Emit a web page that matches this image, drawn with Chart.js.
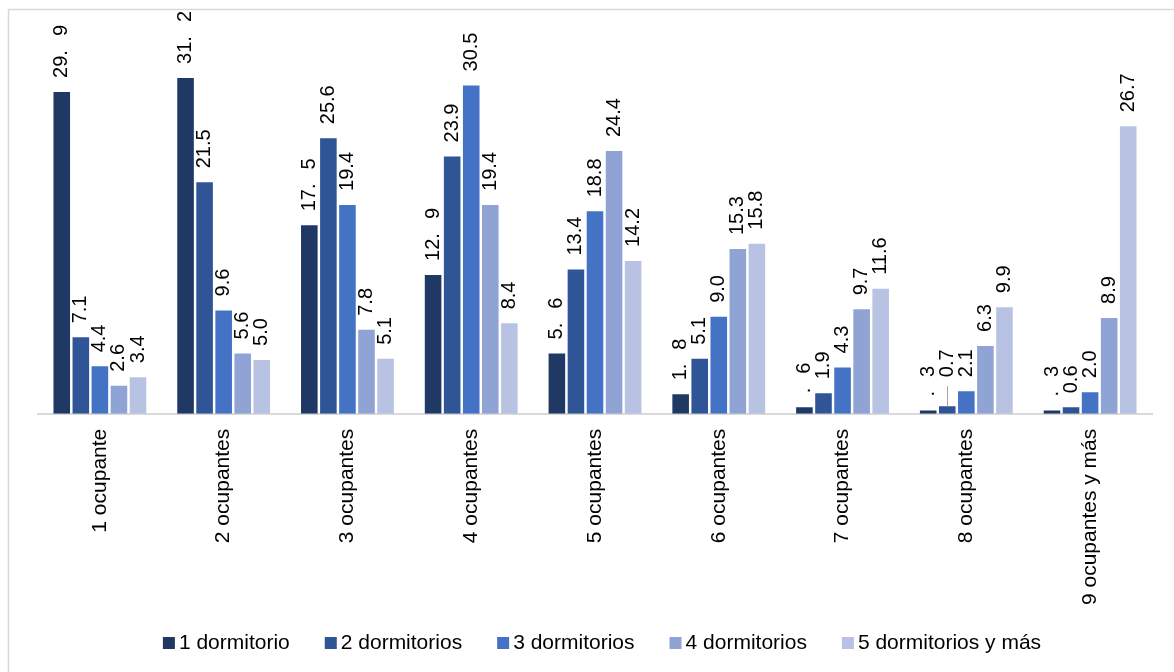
<!DOCTYPE html>
<html lang="es">
<head>
<meta charset="utf-8">
<title>Ocupantes por número de dormitorios</title>
<script src="https://cdn.jsdelivr.net/npm/chart.js@4.4.1/dist/chart.umd.min.js"></script>
<style>
  html, body { margin: 0; padding: 0; background: #fff; }
  #wrap { position: relative; width: 1174px; height: 672px; }
</style>
</head>
<body>
<div id="wrap"><canvas id="ocupantesChart"></canvas></div>
<script>
const categories = ['1 ocupante', '2 ocupantes', '3 ocupantes', '4 ocupantes', '5 ocupantes',
  '6 ocupantes', '7 ocupantes', '8 ocupantes', '9 ocupantes y más'];
const seriesNames = ['1 dormitorio', '2 dormitorios', '3 dormitorios', '4 dormitorios', '5 dormitorios y más'];
const dormitorio1 = [29.9, 31.2, 17.5, 12.9, 5.6, 1.8, 0.6, 0.3, 0.3];
const dormitorios2 = [7.1, 21.5, 25.6, 23.9, 13.4, 5.1, 1.9, 0.7, 0.6];
const dormitorios3 = [4.4, 9.6, 19.4, 30.5, 18.8, 9.0, 4.3, 2.1, 2.0];
const dormitorios4 = [2.6, 5.6, 7.8, 19.4, 24.4, 15.3, 9.7, 6.3, 8.9];
const dormitorios5 = [3.4, 5.0, 5.1, 8.4, 14.2, 15.8, 11.6, 9.9, 26.7];
const seriesColors = ['#203864', '#2F5597', '#4472C4', '#8FA4D4', '#B8C3E3'];

const FONT = '"Liberation Sans", Arial, sans-serif';

// labels on the first series come out broken as "29.  9" / ".  6"
function labelParts(v, split) {
  const s = v.toFixed(1);
  if (!split) return [s];
  const [ip, dp] = s.split('.');
  return [(ip === '0' ? '' : ip) + '.', dp];
}

const barLabels = {
  id: 'barLabels',
  afterDatasetsDraw(chart, args, opts) {
    const ctx = chart.ctx;
    ctx.save();
    ctx.font = opts.fontSize + 'px ' + FONT;
    ctx.fillStyle = '#000';
    ctx.textAlign = 'left';
    ctx.textBaseline = 'middle';
    chart.data.datasets.forEach((ds, di) => {
      const meta = chart.getDatasetMeta(di);
      meta.data.forEach((bar, i) => {
        const lead = (opts.leaders || []).find(l => l.datasetIndex === di && l.index === i);
        const lift = lead ? lead.lift : 0;
        if (lead) {
          ctx.save();
          ctx.strokeStyle = '#a6a6a6';
          ctx.lineWidth = 1;
          ctx.beginPath();
          ctx.moveTo(Math.round(bar.x) + 0.5, bar.y);
          ctx.lineTo(Math.round(bar.x) + 0.5, bar.y - opts.gap - lift + 9);
          ctx.stroke();
          ctx.restore();
        }
        const parts = labelParts(ds.data[i], ds.splitLabel);
        ctx.save();
        ctx.translate(bar.x, bar.y - opts.gap - lift);
        ctx.rotate(-Math.PI / 2);
        let off = 0;
        parts.forEach(p => {
          ctx.fillText(p, off, 0);
          off += ctx.measureText(p).width + opts.splitGap;
        });
        ctx.restore();
      });
    });
    ctx.restore();
  }
};

// frame lines and the legend row
const frameAndLegend = {
  id: 'frameAndLegend',
  beforeDraw(chart) {
    const ctx = chart.ctx;
    ctx.save();
    ctx.strokeStyle = '#d9d9d9';
    ctx.lineWidth = 1.5;
    ctx.beginPath();
    ctx.moveTo(8.5, chart.height);
    ctx.lineTo(8.5, 9.5);
    ctx.lineTo(chart.width, 9.5);
    ctx.stroke();
    ctx.restore();
  },
  afterDraw(chart, args, opts) {
    const ctx = chart.ctx;
    ctx.save();
    ctx.font = opts.fontSize + 'px ' + FONT;
    ctx.textBaseline = 'middle';
    ctx.textAlign = 'left';
    const items = chart.data.datasets.map(ds => ({
      text: ds.label, color: ds.backgroundColor, w: ctx.measureText(ds.label).width
    }));
    const total = items.reduce((s, it) => s + opts.box + opts.boxGap + it.w, 0) + opts.itemGap * (items.length - 1);
    let x = opts.centerX - total / 2;
    items.forEach(it => {
      ctx.fillStyle = it.color;
      ctx.fillRect(x, opts.y - opts.box / 2, opts.box, opts.box);
      x += opts.box + opts.boxGap;
      ctx.fillStyle = '#000';
      ctx.fillText(it.text, x, opts.y);
      x += it.w + opts.itemGap;
    });
    ctx.restore();
  }
};

const seriesValues = [dormitorio1, dormitorios2, dormitorios3, dormitorios4, dormitorios5];

new Chart(document.getElementById('ocupantesChart'), {
  type: 'bar',
  data: {
    labels: categories,
    datasets: seriesValues.map((vals, i) => ({
      label: seriesNames[i],
      data: vals,
      backgroundColor: seriesColors[i],
      splitLabel: i === 0,
      categoryPercentage: 0.77,
      barPercentage: 0.87
    }))
  },
  options: {
    responsive: true,
    maintainAspectRatio: false,
    animation: false,
    layout: { padding: { top: 37, left: 38, right: 22, bottom: 52 } },
    scales: {
      x: {
        grid: { display: false, drawTicks: false },
        border: { display: true, color: '#d9d9d9', width: 2 },
        ticks: {
          autoSkip: false,
          maxRotation: 90,
          minRotation: 90,
          padding: 15,
          color: '#000',
          font: { family: FONT, size: 21 }
        }
      },
      y: {
        display: false,
        min: 0,
        max: 35
      }
    },
    plugins: {
      legend: { display: false },
      tooltip: { enabled: false },
      barLabels: {
        fontSize: 20,
        gap: 14,
        splitGap: 14,
        leaders: [{ datasetIndex: 1, index: 7, lift: 15 }]
      },
      frameAndLegend: {
        fontSize: 21,
        box: 12,
        boxGap: 4,
        itemGap: 35,
        centerX: 602,
        y: 643
      }
    }
  },
  plugins: [barLabels, frameAndLegend]
});
</script>
</body>
</html>
